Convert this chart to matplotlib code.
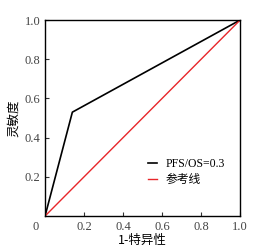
import matplotlib
matplotlib.use("Agg")
import matplotlib.pyplot as plt

plt.rcParams['font.family'] = ['Liberation Serif', 'Noto Sans CJK SC']

fpr = [0.0, 0.14, 1.0]
tpr = [0.0, 0.53, 1.0]
ref_x = [0.0, 1.0]
ref_y = [0.0, 1.0]
xticks = [0.2, 0.4, 0.6, 0.8, 1.0]
yticks = [0.2, 0.4, 0.6, 0.8, 1.0]

fig = plt.figure(figsize=(2.56, 2.49), dpi=100)
ax = fig.add_axes([0.176, 0.1325, 0.762, 0.787])
ax.plot(fpr, tpr, color='black', lw=1.2, label='PFS/OS=0.3')
ax.plot(ref_x, ref_y, color='#e8262a', lw=1.0, label='参考线')
ax.set_xlim(0, 1)
ax.set_ylim(0, 1)
ax.set_xticks(xticks)
ax.set_yticks(yticks)
ax.set_xticklabels([f'{v:.1f}' for v in xticks])
ax.set_yticklabels([f'{v:.1f}' for v in yticks])
ax.tick_params(direction='in', length=3, width=0.8, labelsize=9, colors='#333333', labelcolor='#444444')
ax.text(-0.03, -0.025, '0', transform=ax.transAxes, ha='right', va='top', fontsize=9, color='#444444')
for s in ax.spines.values():
    s.set_linewidth(1.0)
ax.set_xlabel('1-特异性', fontsize=9, labelpad=1, family=['Noto Sans CJK SC'])
ax.set_ylabel('灵敏度', fontsize=9, labelpad=3, family=['Noto Sans CJK SC'])
leg = ax.legend(loc='lower right', bbox_to_anchor=(0.975, 0.10), frameon=False,
                handlelength=0.8, handletextpad=0.7, labelspacing=0.3,
                prop={'family': ['Liberation Serif', 'Noto Sans CJK SC'], 'size': 8.5})
fig.savefig('out.png', dpi=100)
